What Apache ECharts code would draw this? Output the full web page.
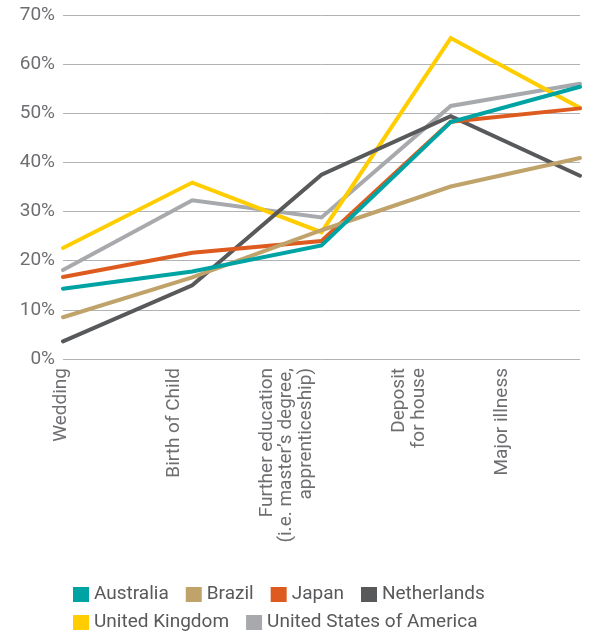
<!DOCTYPE html>
<html>
<head>
<meta charset="utf-8">
<script src="https://cdn.jsdelivr.net/npm/echarts@6/dist/echarts.min.js"></script>
<style>
html,body{margin:0;padding:0;background:#fff;}
#chart{width:595px;height:632px;}
</style>
</head>
<body>
<div id="chart"></div>
<script>
const categories = ['Wedding', 'Birth of Child', 'Further education\n(i.e. master’s degree,\napprenticeship)', 'Deposit\nfor house', 'Major illness'];
const yTicks = [0, 10, 20, 30, 40, 50, 60, 70];

const australia   = [14.3, 17.8, 23.1, 48.2, 55.4];
const brazil      = [8.5, 16.6, 26.2, 35.1, 40.9];
const japan       = [16.7, 21.6, 24.0, 48.3, 51.0];
const netherlands = [3.6, 15.0, 37.5, 49.4, 37.3];
const unitedKingdom = [22.6, 35.9, 25.8, 65.3, 51.1];
const usa         = [18.1, 32.3, 28.8, 51.5, 56.0];

const seriesNames = ['Australia', 'Brazil', 'Japan', 'Netherlands', 'United Kingdom', 'United States of America'];
const seriesValues = [australia, brazil, japan, netherlands, unitedKingdom, usa];
const colors = ['#00A3A3', '#BFA36B', '#DE5B1F', '#58595B', '#FFCD00', '#A7A9AC'];

const font = 'Roboto, "Liberation Sans", sans-serif';
const textColor = '#6D6E71';

// label block nudges (blank lines before / after the text)
const labelPre = ['', '', '', '\n', ''];
const labelPost = ['', '', '', '', '\n'];

const series = [];
for (let i = seriesNames.length - 1; i >= 0; i--) {
  series.push({
    name: seriesNames[i],
    type: 'line',
    xAxisIndex: 0,
    yAxisIndex: 0,
    data: seriesValues[i],
    showSymbol: false,
    symbol: 'none',
    color: colors[i],
    lineStyle: { width: 4, color: colors[i], cap: 'round', join: 'miter' },
    itemStyle: { color: colors[i] }
  });
}

const chart = echarts.init(document.getElementById('chart'), null, { renderer: 'canvas' });
chart.setOption({
  animation: false,
  backgroundColor: '#fff',
  grid: [
    { left: 63, right: 15, top: 15, bottom: 273, containLabel: false },
    { left: 61, right: 83, top: 15, bottom: 273, containLabel: false }
  ],
  xAxis: [
    {
      gridIndex: 0, type: 'category', data: categories, boundaryGap: false,
      axisLine: { show: false }, axisTick: { show: false }, axisLabel: { show: false }
    },
    {
      gridIndex: 1, type: 'category', data: categories, boundaryGap: false,
      axisLine: { show: false }, axisTick: { show: false },
      axisLabel: {
        show: true, rotate: 90, margin: 9, interval: 0,
        fontFamily: font, fontSize: 19, color: textColor, lineHeight: 19.5,
        formatter: function (value, index) { return labelPre[index] + value + labelPost[index]; }
      }
    }
  ],
  yAxis: [
    {
      gridIndex: 0, type: 'value', min: yTicks[0], max: yTicks[yTicks.length - 1], interval: 10,
      axisLine: { show: false }, axisTick: { show: false },
      splitLine: { show: true, lineStyle: { color: '#B1B2B4', width: 1 } },
      axisLabel: { formatter: '{value}%', margin: 8, fontFamily: font, fontSize: 19, color: textColor }
    },
    {
      gridIndex: 1, type: 'value', min: 0, max: 70, interval: 10, show: false
    }
  ],
  legend: [
    {
      data: seriesNames.slice(0, 4), left: 73, top: 585, padding: 0,
      icon: 'rect', itemWidth: 16, itemHeight: 15, itemGap: 17,
      textStyle: { fontFamily: font, fontSize: 19, color: '#58595B' }
    },
    {
      data: seriesNames.slice(4), left: 73, top: 613, padding: 0,
      icon: 'rect', itemWidth: 16, itemHeight: 15, itemGap: 17,
      textStyle: { fontFamily: font, fontSize: 19, color: '#58595B' }
    }
  ],
  series: series
});
</script>
</body>
</html>
